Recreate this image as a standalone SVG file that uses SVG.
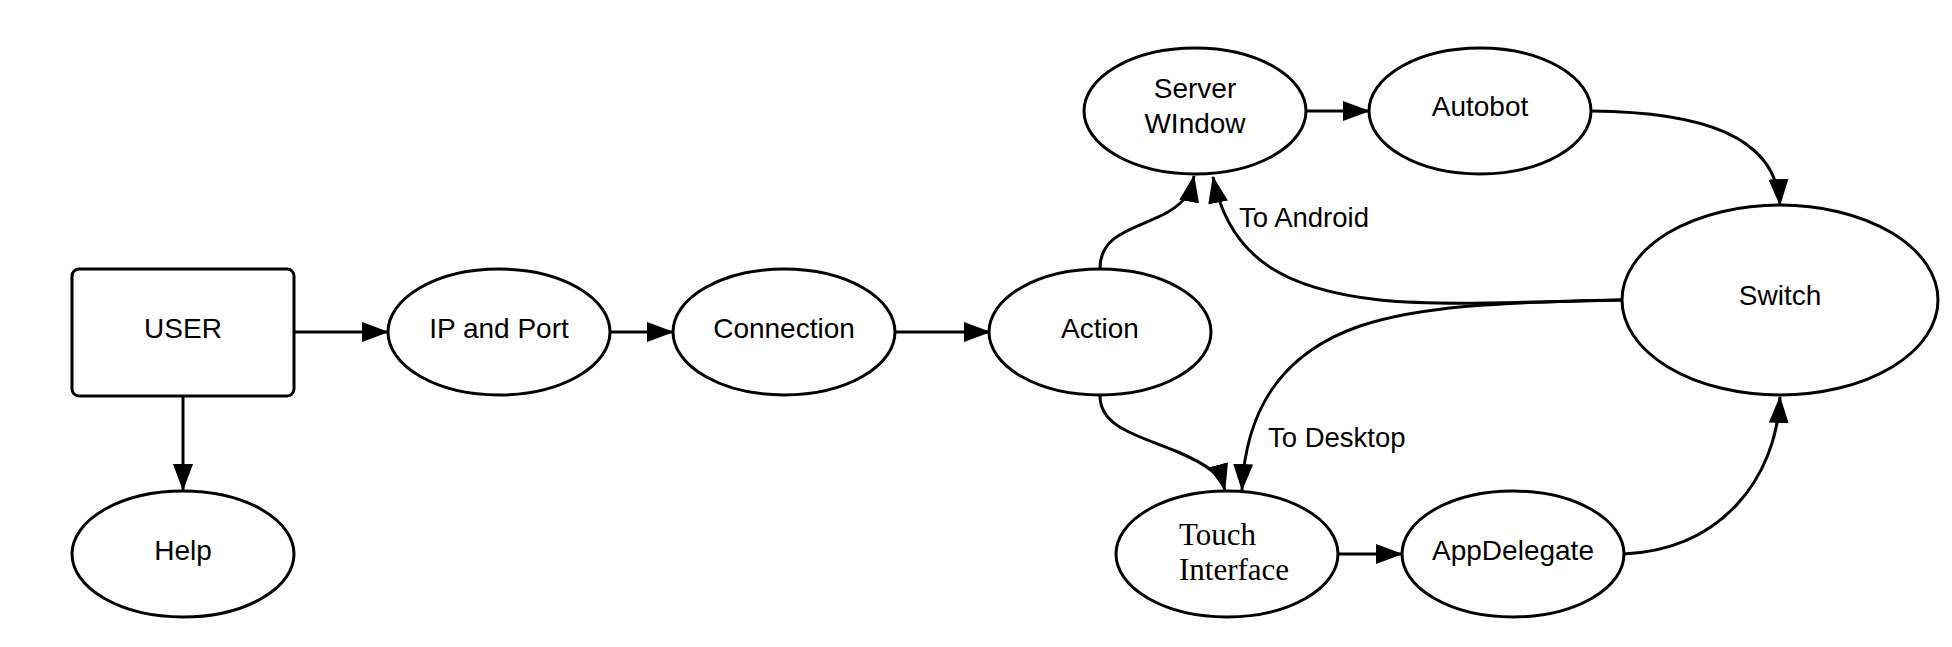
<svg xmlns="http://www.w3.org/2000/svg" width="1952" height="647" viewBox="0 0 1952 647">
<style>
.n{fill:#fff;stroke:#000;stroke-width:3}
.t{font-family:"Liberation Sans",Arial,sans-serif;font-size:28px;fill:#000;text-anchor:middle}
.s{font-family:"Liberation Serif","Times New Roman",serif;font-size:31px;fill:#000}
.e{fill:none;stroke:#000;stroke-width:3}
.l{font-family:"Liberation Sans",Arial,sans-serif;font-size:27.5px;fill:#000}
</style>
<defs>
<marker id="a" markerUnits="userSpaceOnUse" markerWidth="28" markerHeight="20" refX="26" refY="10" orient="auto">
<path d="M0,0 L27,10 L0,20 z" fill="#000"/>
</marker>
</defs>
<rect width="1952" height="647" fill="#fff"/>
<g id="connectors">
<path class="e" marker-end="url(#a)" d="M294,332 L388,332"/>
<path class="e" marker-end="url(#a)" d="M610,332 L673,332"/>
<path class="e" marker-end="url(#a)" d="M895,332 L990,332"/>
<path class="e" marker-end="url(#a)" d="M183,396 L183,490"/>
<path class="e" marker-end="url(#a)" d="M1306,111 L1369,111"/>
<path class="e" marker-end="url(#a)" d="M1338,554 L1402,554"/>
<path class="e" marker-end="url(#a)" d="M1100,268 C1100,232 1140,228 1168,212 C1185,202 1191,192 1194,176"/>
<path class="e" marker-end="url(#a)" d="M1622,300 C1520,302 1440,306 1380,300 C1290,290 1230,262 1213,177"/>
<path class="e" marker-end="url(#a)" d="M1622,300 C1500,302 1420,306 1360,326 C1290,350 1246,400 1242,490"/>
<path class="e" marker-end="url(#a)" d="M1100,396 C1100,428 1140,436 1178,452 C1208,465 1221,475 1225,490"/>
<path class="e" marker-end="url(#a)" d="M1591,111 C1700,112 1776,135 1780,205"/>
<path class="e" marker-end="url(#a)" d="M1623,554 C1720,550 1776,480 1780,397"/>
<text class="l" x="1239" y="227">To Android</text>
<text class="l" x="1268" y="447">To Desktop</text>
</g>
<g id="user"><rect class="n" x="72" y="269" width="222" height="127" rx="7"/><text class="t" x="183" y="338">USER</text></g>
<g id="help"><ellipse class="n" cx="183" cy="554" rx="111" ry="63"/><text class="t" x="183" y="560">Help</text></g>
<g id="ipport"><ellipse class="n" cx="499" cy="332" rx="111" ry="63"/><text class="t" x="499" y="338">IP and Port</text></g>
<g id="connection"><ellipse class="n" cx="784" cy="332" rx="111" ry="63"/><text class="t" x="784" y="338">Connection</text></g>
<g id="action"><ellipse class="n" cx="1100" cy="332" rx="111" ry="63"/><text class="t" x="1100" y="338">Action</text></g>
<g id="serverwindow"><ellipse class="n" cx="1195" cy="111" rx="111" ry="63"/><text class="t" x="1195" y="98">Server</text><text class="t" x="1195" y="133">WIndow</text></g>
<g id="autobot"><ellipse class="n" cx="1480" cy="111" rx="111" ry="63"/><text class="t" x="1480" y="116">Autobot</text></g>
<g id="switch"><ellipse class="n" cx="1780" cy="300" rx="158" ry="95"/><text class="t" x="1780" y="305">Switch</text></g>
<g id="touch"><ellipse class="n" cx="1227" cy="554" rx="111" ry="63"/><text class="s" x="1179" y="545">Touch</text><text class="s" x="1179" y="580">Interface</text></g>
<g id="appdelegate"><ellipse class="n" cx="1513" cy="554" rx="111" ry="63"/><text class="t" x="1513" y="560">AppDelegate</text></g>
</svg>
